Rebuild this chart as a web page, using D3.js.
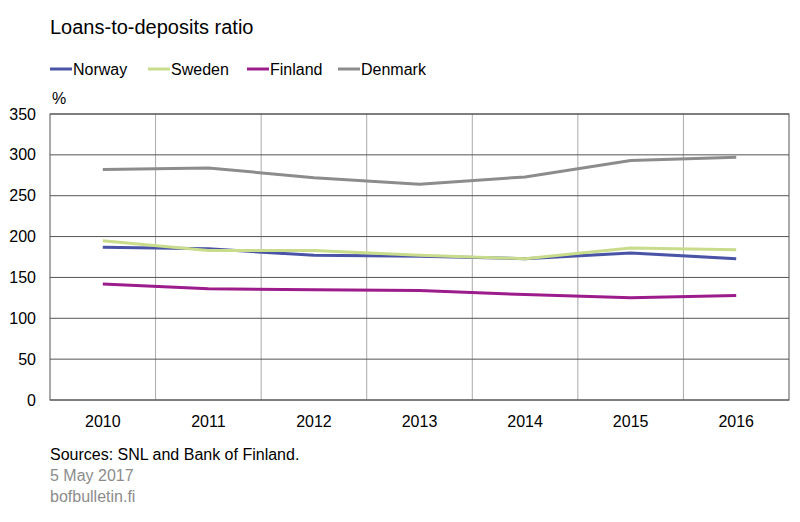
<!DOCTYPE html>
<html><head><meta charset="utf-8">
<script src="https://cdn.jsdelivr.net/npm/d3@7"></script>
<style>body{margin:0;background:#fff;font-family:Arial,"Liberation Sans",sans-serif}</style>
</head><body><div id="chart"></div>
<script>
var years = ["2010","2011","2012","2013","2014","2015","2016"];
var norway = [187,185,177,176,173,180,173];
var sweden = [195,183,183,177,173,186,184];
var finland = [142,136,135,134,129,125,128];
var denmark = [282,284,272,264,273,293,297];
var seriesNames = ["Norway","Sweden","Finland","Denmark"];
var seriesColors = ["#4a54a6","#c8dc8c","#9c1c8c","#8c8c8c"];
var yTicks = [0,50,100,150,200,250,300,350];

var svg = d3.select("#chart").append("svg").attr("width",800).attr("height",522);
var pLeft = 50, pRight = 789, pTop = 114, pBottom = 400;
var x = d3.scaleBand().domain(years).range([pLeft,pRight]);
var y = d3.scaleLinear().domain([0,350]).range([pBottom,pTop]);

svg.append("text").attr("x",50).attr("y",34).attr("font-size",20).text("Loans-to-deposits ratio");

// legend
var lg = svg.selectAll(".lg").data(seriesNames).enter().append("g")
  .attr("transform",function(d,i){return "translate("+[50,148,247,338][i]+",69)";});
lg.append("line").attr("x1",0).attr("x2",22).attr("stroke-width",3)
  .attr("stroke",function(d,i){return seriesColors[i];});
lg.append("text").attr("x",23).attr("dy","0.35em").attr("font-size",16).text(function(d){return d;});

// grid
svg.selectAll(".vg").data(years.slice(1)).enter().append("line")
  .attr("x1",function(d){return x(d);}).attr("x2",function(d){return x(d);})
  .attr("y1",pTop).attr("y2",pBottom).attr("stroke","#aaa");
svg.selectAll(".hg").data(yTicks).enter().append("line")
  .attr("x1",pLeft).attr("x2",pRight).attr("y1",function(d){return y(d);}).attr("y2",function(d){return y(d);})
  .attr("stroke","#555").attr("stroke-width",1);
svg.append("rect").attr("x",pLeft).attr("y",pTop).attr("width",pRight-pLeft).attr("height",pBottom-pTop)
  .attr("fill","none").attr("stroke","#555");

svg.selectAll(".yl").data(yTicks).enter().append("text")
  .attr("x",pLeft-14).attr("y",function(d){return y(d);}).attr("dy","0.35em")
  .attr("text-anchor","end").attr("font-size",16).text(function(d){return d;});
svg.append("text").attr("x",52).attr("y",104).attr("font-size",16).text("%");
svg.selectAll(".xl").data(years).enter().append("text")
  .attr("x",function(d){return x(d)+x.bandwidth()/2;}).attr("y",427)
  .attr("text-anchor","middle").attr("font-size",16).text(function(d){return d;});

var line = d3.line().x(function(d,i){return x(years[i])+x.bandwidth()/2;}).y(function(d){return y(d);});
[norway,sweden,finland,denmark].forEach(function(s,i){
  svg.append("path").attr("d",line(s)).attr("fill","none")
    .attr("stroke",seriesColors[i]).attr("stroke-width",3);
});

svg.append("text").attr("x",50).attr("y",460).attr("font-size",16).text("Sources: SNL and Bank of Finland.");
svg.append("text").attr("x",50).attr("y",481).attr("font-size",16).attr("fill","#8c8c8c").text("5 May 2017");
svg.append("text").attr("x",50).attr("y",502).attr("font-size",16).attr("fill","#8c8c8c").text("bofbulletin.fi");
</script></body></html>
